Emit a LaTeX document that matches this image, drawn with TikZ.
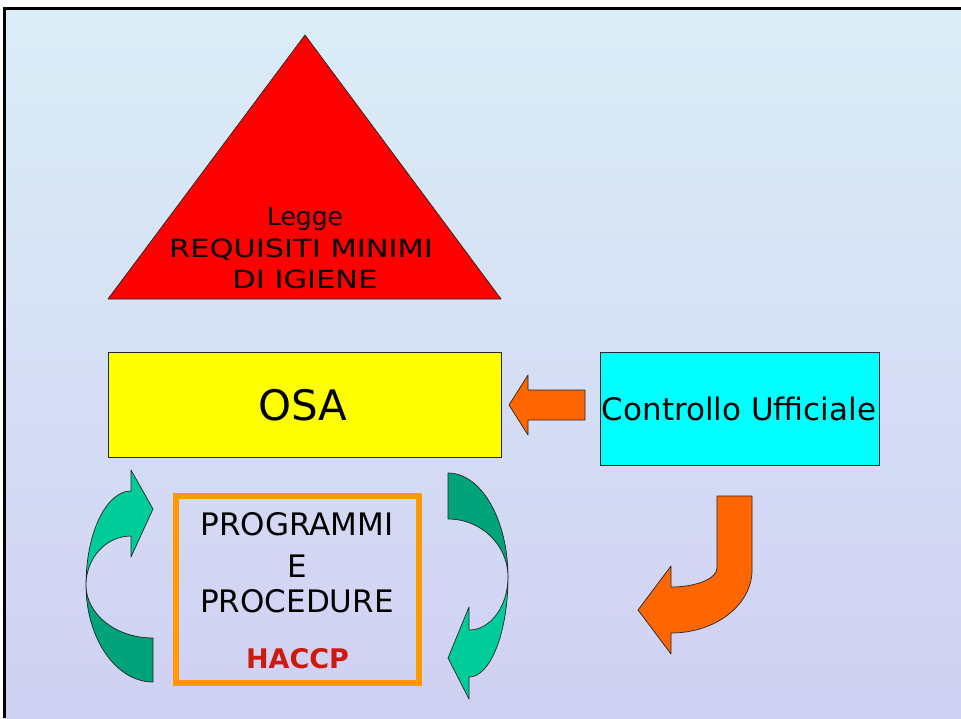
\documentclass[tikz,border=0pt]{standalone}
\usepackage{fontspec}
\setmainfont{DejaVu Sans}
\newfontfamily\largo[FakeStretch=1.22]{DejaVu Sans}
\usepackage{xcolor}
\usepackage{tikz}
\usetikzlibrary{calc}
\definecolor{bgtop}{RGB}{219,238,247}
\definecolor{bgbot}{RGB}{208,208,242}
\definecolor{rosso}{RGB}{255,0,0}
\definecolor{giallo}{RGB}{255,255,0}
\definecolor{ciano}{RGB}{0,255,255}
\definecolor{arancio}{RGB}{255,102,0}
\definecolor{bordoarancio}{RGB}{255,153,0}
\definecolor{verdechiaro}{RGB}{0,204,153}
\definecolor{verdescuro}{RGB}{0,163,122}
\definecolor{rossohaccp}{RGB}{204,26,15}
\tikzset{
  forma/.style={draw=black!85, line width=0.7pt, line join=round},
  blocco/.style={forma, inner sep=0pt},
  scritta/.style={anchor=base, inner sep=0pt, text=black},
}

\begin{document}
\begin{tikzpicture}[x=1pt,y=-1pt]
    \useasboundingbox (0,0) rectangle (961,718);
    % sfondo e cornice
    \fill[top color=bgtop, bottom color=bgbot] (5,8) rectangle (961,718);
    \draw[line width=2.8pt] (4.7,718) -- (4.7,8.7) -- (961,8.7);

    % triangolo
    \fill[rosso, forma] (305,35) -- (501,299) -- (108,299) -- cycle;
    \node[scritta, font=\fontsize{25}{30}\selectfont] (legge) at (305,225) {Legge};
    \node[scritta, font=\largo\fontsize{25}{30}\selectfont] (requisiti) at (301,257) {REQUISITI MINIMI};
    \node[scritta, font=\largo\fontsize{25}{30}\selectfont] (igiene) at (305,288) {DI IGIENE};

    % OSA e controllo
    \node[blocco, fill=giallo, minimum width=393pt, minimum height=105pt] (osa) at (304.5,404.5) {};
    \node[scritta, font=\fontsize{42}{50}\selectfont] (osatxt) at (303,420) {OSA};
    \node[blocco, fill=ciano, minimum width=279pt, minimum height=113pt] (controllo) at (739.5,408.5) {};
    \node[scritta, font=\fontsize{31}{36}\selectfont] (controllotxt) at (739,420) {Controllo Ufficiale};

    % freccia verso OSA
    \fill[arancio, forma] (585,390) -- (528,390) -- (528,375) -- (509,405) -- (528,435) -- (528,420) -- (585,420) -- cycle;

    % freccia a J
    \fill[arancio, forma] (717,496) -- (752,496) -- (752,570)
        arc[start angle=0, end angle=90, x radius=81, y radius=63]
        -- (671,654) -- (638,610) -- (671,566) -- (671,587)
        arc[start angle=90, end angle=0, x radius=46, y radius=19]
        -- cycle;

    % programmi e procedure
    \node[draw=bordoarancio, line width=6pt, minimum width=243pt, minimum height=187pt, inner sep=0pt] (programmi) at (297.5,589.5) {};
    \node[scritta, font=\fontsize{31}{36}\selectfont] (prog1) at (297,535) {PROGRAMMI};
    \node[scritta, font=\fontsize{31}{36}\selectfont] (prog2) at (297,577) {E};
    \node[scritta, font=\fontsize{31}{36}\selectfont] (prog3) at (297,612) {PROCEDURE};
    \node[scritta, font=\fontsize{27}{32}\selectfont\bfseries, text=rossohaccp] (haccp) at (297.5,668) {HACCP};

    % freccia curva sinistra
    \fill[verdescuro, forma] (153,682)
        arc[start angle=90, end angle=180, x radius=67, y radius=97]
        arc[start angle=180, end angle=90, x radius=67, y radius=53]
        -- cycle;
    \fill[verdechiaro, forma] (131,491)
        arc[start angle=270, end angle=180, x radius=45, y radius=94]
        arc[start angle=180, end angle=270, x radius=45, y radius=49]
        -- (131,557) -- (153,509) -- (131,470) -- cycle;

    % freccia curva destra
    \fill[verdescuro, forma] (448,473)
        arc[start angle=270, end angle=360, x radius=60, y radius=104]
        arc[start angle=360, end angle=270, x radius=60, y radius=58]
        -- cycle;
    \fill[verdechiaro, forma] (508,577)
        arc[start angle=0, end angle=90, x radius=39, y radius=100]
        -- (469,699) -- (448,658) -- (469,607) -- (469,630)
        arc[start angle=90, end angle=0, x radius=39, y radius=53]
        -- cycle;
\end{tikzpicture}
\end{document}
